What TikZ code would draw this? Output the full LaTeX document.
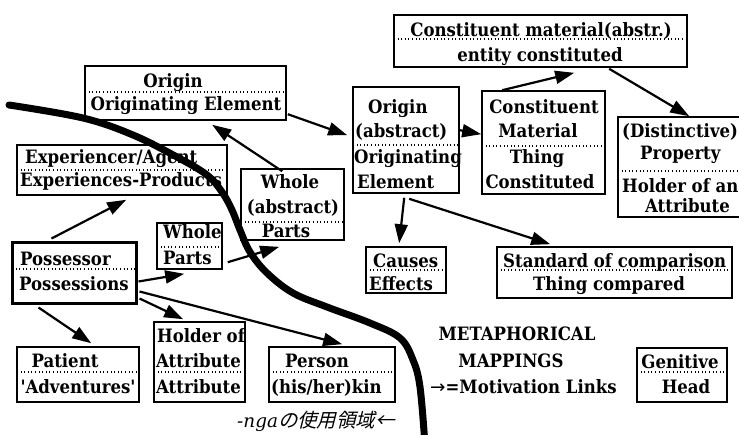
\documentclass[tikz,border=0pt]{standalone}
\usepackage{fontspec}
\setmainfont{DejaVuSerifCondensed-Bold.ttf}
\newfontfamily\itfont{DejaVu Serif}
\newfontfamily\cjkfont[FakeSlant=0.25]{Noto Sans CJK JP}
\newfontfamily\arrowfont{DejaVu Sans}
\usetikzlibrary{arrows.meta,fit}
\begin{document}
\begin{tikzpicture}[x=1pt,y=-1pt,
  bx/.style={draw, line width=1.6pt, inner sep=0pt, fill=white},
  dv/.style={line width=1.1pt, dash pattern=on 1pt off 2.6pt},
  tx/.style={anchor=base, inner sep=0pt, font=\fontsize{18.4}{22}\selectfont},
  tl/.style={tx, anchor=base west},
  ar/.style={line width=2.2pt, -{Triangle[length=19pt,width=13pt]}},
  bigcurve/.style={line width=7pt, line cap=round, line join=round}]
\useasboundingbox (0,0) rectangle (739,434);
\clip (0,0) rectangle (739,434);

% boxes
\node[bx, fit={(394,15) (687,67)}] (cma) {};
\node[bx, fit={(85,66) (286,120)}] (orig) {};
\node[bx, fit={(353,87) (459,193)}] (oab) {};
\node[bx, fit={(482,91) (605,194)}] (cm) {};
\node[bx, fit={(618,117) (745,217)}] (prop) {};
\node[bx, fit={(17,145) (227,195)}] (exp) {};
\node[bx, fit={(241,169) (344,240)}] (wab) {};
\node[bx, fit={(157,223) (222,269)}] (wp) {};
\node[bx, line width=3pt, fit={(12,242) (136,303)}] (poss) {};
\node[bx, fit={(17,347) (139,402)}] (pat) {};
\node[bx, fit={(154,322) (245,402)}] (hold) {};
\node[bx, fit={(269,347) (395,402)}] (pers) {};
\node[bx, fit={(366,247) (446,293)}] (cause) {};
\node[bx, fit={(497,247) (732,298)}] (std) {};
\node[bx, fit={(637,348) (727,402)}] (gen) {};

% dividers
\draw[dv] (394,39) -- (687,39);
\draw[dv] (85,92) -- (286,92);
\draw[dv] (353,145) -- (459,145);
\draw[dv] (482,146) -- (605,146);
\draw[dv] (618,171) -- (739,171);
\draw[dv] (17,170) -- (227,170);
\draw[dv] (241,222) -- (344,222);
\draw[dv] (157,247) -- (222,247);
\draw[dv] (12,269) -- (136,269);
\draw[dv] (17,372) -- (139,372);
\draw[dv] (154,372) -- (245,372);
\draw[dv] (269,372) -- (395,372);
\draw[dv] (366,270) -- (446,270);
\draw[dv] (497,270) -- (732,270);
\draw[dv] (637,372) -- (727,372);

% texts
\node[tx] (t1) at (541,36) {Constituent material(abstr.)};
\node[tx] (t2) at (540,61) {entity constituted};
\node[tx] (t3) at (173,87) {Origin};
\node[tx] (t4) at (186,110) {Originating Element};
\node[tl] (t5) at (368,113) {Origin};
\node[tl] (t6) at (355,137) {(abstract)};
\node[tl] (t7) at (354,163) {Originating};
\node[tl] (t8) at (357,188) {Element};
\node[tx] (t9) at (544,113) {Constituent};
\node[tx] (t10) at (538,137) {Material};
\node[tx] (t11) at (537,163) {Thing};
\node[tx] (t12) at (540,188) {Constituted};
\node[tl] (t13) at (622,137) {(Distinctive)};
\node[tl] (t14) at (640,159) {Property};
\node[tl] (t15) at (622,192) {Holder of an};
\node[tl] (t16) at (645,212) {Attribute};
\node[tl] (t17) at (25,163) {Experiencer/Agent};
\node[tl] (t18) at (20,186) {Experiences-Products};
\node[tx] (t19) at (290,188) {Whole};
\node[tx] (t20) at (293,213) {(abstract)};
\node[tx] (t21) at (286,237) {Parts};
\node[tl] (t22) at (163,238) {Whole};
\node[tl] (t23) at (163,264) {Parts};
\node[tl] (t24) at (20,265) {Possessor};
\node[tl] (t25) at (19,290) {Possessions};
\node[tx] (t26) at (65,367) {Patient};
\node[tx] (t27) at (78,393) {\textquotesingle Adventures\textquotesingle};
\node[tl] (t28) at (157,342) {Holder of};
\node[tl] (t29) at (156,367) {Attribute};
\node[tl] (t30) at (156,393) {Attribute};
\node[tl] (t31) at (285,367) {Person};
\node[tl] (t32) at (271,393) {(his/her)kin};
\node[tl] (t33) at (373,267) {Causes};
\node[tl] (t34) at (369,290) {Effects};
\node[tl] (t35) at (503,267) {Standard of comparison};
\node[tx] (t36) at (609,290) {Thing compared};
\node[tx] (t37) at (680,368) {Genitive};
\node[tx] (t38) at (686,393) {Head};

% legend
\node[tx] (l1) at (517,340) {METAPHORICAL};
\node[tx] (l2) at (511,367) {MAPPINGS};
\node[tl] (l3) at (430,393) {{\arrowfont →}=Motivation Links};
\node[tl] (l4) at (237,427) {{\itfont\itshape -nga}{\cjkfont\fontsize{19.4}{22}\selectfont の使用領域←}};

% connectors
\draw[ar] ([shift={(41,-2)}]poss.north west) -- ([shift={(110,4)}]exp.south west);
\draw[ar] ([shift={(1,41)}]poss.north east) -- ([shift={(28,4)}]wp.south west);
\draw[ar] ([shift={(5,40)}]wp.north east) -- ([shift={(39,6)}]wab.south west);
\draw[ar] ([shift={(42,3)}]wab.north west) -- ([shift={(128,4)}]orig.south west);
\draw[ar] ([shift={(1,49)}]orig.north east) -- ([shift={(-5,49)}]oab.north west);
\draw[ar] ([shift={(0,44)}]oab.north east) -- ([shift={(0,44)}]cm.north west);
\draw[ar] ([shift={(21,0)}]cm.north west) -- ([shift={(181,5)}]cma.south west);
\draw[ar] ([shift={(216,1)}]cma.south west) -- ([shift={(72,0)}]prop.north west);
\draw[ar] ([shift={(52,4)}]oab.south west) -- ([shift={(34,-3)}]cause.north west);
\draw[ar] ([shift={(57,5)}]oab.south west) -- ([shift={(54,-2)}]std.north west);
\draw[ar] ([shift={(28,3)}]poss.south west) -- ([shift={(75,-3)}]pat.north west);
\draw[ar] ([shift={(2,-6)}]poss.south east) -- ([shift={(30,-2)}]hold.north west);
\draw[ar] ([shift={(2,-13)}]poss.south east) -- ([shift={(74,-2)}]pers.north west);

% boundary curve
\draw[bigcurve] plot[smooth, tension=0.6] coordinates {(9,105) (83,118) (133,135) (177,157) (207,175) (222,192) (232,210) (240,230) (250,252) (267,273) (293,293) (327,307) (370,323) (400,338) (413,360) (420,387) (425,445)};
\end{tikzpicture}
\end{document}
